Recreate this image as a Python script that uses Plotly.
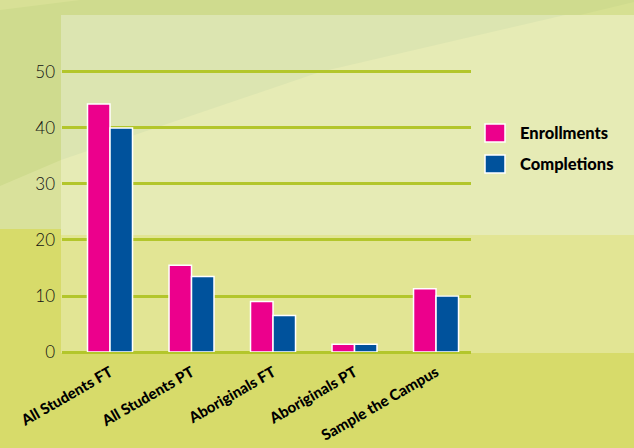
import plotly.graph_objects as go

categories = ["All Students FT", "All Students PT", "Aboriginals FT", "Aboriginals PT", "Sample the Campus"]
series_names = ["Enrollments", "Completions"]
enrollments = [44.3, 15.5, 9.0, 1.4, 11.3]
completions = [40.0, 13.5, 6.5, 1.4, 10.0]
y_ticks = [0, 10, 20, 30, 40, 50]
colors = ["#ec008c", "#00529c"]

W, H = 634, 448
L, R, T, B = 62, 471, 60, 352  # plot area in pixels


def px(x):
    return (x - L) / (R - L)


def py(y):
    return (B - y) / (B - T)


def poly(points, color):
    path = "M " + " L ".join(f"{px(x):.5f},{py(y):.5f}" for x, y in points) + " Z"
    return dict(type="path", xref="paper", yref="paper", path=path,
                fillcolor=color, line=dict(width=0), layer="below")


def rect(x0, y0, x1, y1, color):
    return dict(type="rect", xref="paper", yref="paper",
                x0=px(x0), x1=px(x1), y0=py(y1), y1=py(y0),
                fillcolor=color, line=dict(width=0), layer="below")


shapes = [
    rect(0, 0, W, 229, "#cfdb8e"),
    poly([(0, 0), (80, 0), (0, 10)], "#d8e096"),
    poly([(0, 186), (61, 160), (61, 229), (0, 229)], "#d9e19b"),
    poly([(580, 15), (634, 2), (634, 15)], "#d6e092"),
    rect(61, 15, W, 235, "#e6ebb5"),
    poly([(61, 15), (565, 15), (320, 72), (61, 160)], "#dce5b1"),
    rect(61, 235, W, 353, "#e2e594"),
]

fig = go.Figure()
for name, vals, col in zip(series_names, [enrollments, completions], colors):
    fig.add_trace(go.Bar(
        x=categories, y=vals, name=name,
        marker=dict(color=col, line=dict(color="white", width=1.5)),
        showlegend=False,
    ))

# custom legend (large square swatches)
annotations = []
for i, (name, col) in enumerate(zip(series_names, colors)):
    yc = 133 + i * 31
    shapes.append(dict(type="rect", xref="paper", yref="paper",
                       x0=px(485), x1=px(505), y0=py(yc + 9), y1=py(yc - 9),
                       fillcolor=col, line=dict(color="white", width=1.5), layer="above"))
    annotations.append(dict(xref="paper", yref="paper", x=px(518), y=py(yc),
                            xanchor="left", yanchor="middle", showarrow=False,
                            text=name,
                            font=dict(family="Lato", size=16.5, color="#000000", weight=900)))

fig.update_layout(
    width=W, height=H,
    margin=dict(l=L, r=W - R, t=T, b=H - B, pad=0, autoexpand=False),
    paper_bgcolor="#d7db6a",
    plot_bgcolor="rgba(0,0,0,0)",
    barmode="group",
    bargap=0.448,
    bargroupgap=0.0,
    shapes=shapes,
    annotations=annotations,
    xaxis=dict(
        type="category", range=[-0.589, 4.429], automargin=False,
        showgrid=False, showline=False, zeroline=False,
        tickangle=-30, ticks="", ticklabelstandoff=8,
        tickfont=dict(family="Lato", size=15, color="#000000", weight=900),
    ),
    yaxis=dict(
        range=[0, 52.14], tickvals=y_ticks, automargin=False,
        showgrid=True, gridcolor="#b3c62b", gridwidth=3,
        zeroline=True, zerolinecolor="#b3c62b", zerolinewidth=3,
        showline=False, ticks="", ticklabelstandoff=6,
        tickfont=dict(family="Lato", size=17, color="#111111", weight=300),
    ),
    showlegend=False,
)

fig.write_html("out.html")
